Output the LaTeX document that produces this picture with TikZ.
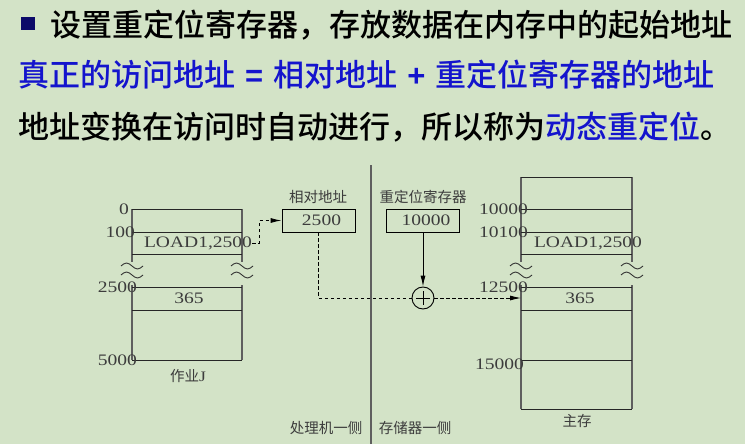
\documentclass[tikz,border=0pt]{standalone}
\usepackage{fontspec}
\setmainfont{Liberation Serif}
\newfontfamily\cjk{Noto Sans CJK SC}
\newfontfamily\cjkheavy{Noto Sans CJK SC}[UprightFont=* Medium]
\newfontfamily\symfont{Liberation Sans}[UprightFont=* Bold]
\newfontfamily\numfont{Liberation Serif}[FakeStretch=1.22]
\usetikzlibrary{arrows.meta}
\definecolor{bgGreen}{RGB}{211,227,199}
\definecolor{slideBlue}{RGB}{20,20,205}
\definecolor{bulletNavy}{RGB}{12,10,105}
\definecolor{lineGray}{RGB}{95,95,95}
\definecolor{textGray}{RGB}{60,60,60}

\begin{document}
\begin{tikzpicture}
	[x=1pt, y=-1pt,
		title/.style		={anchor=west
									, inner sep=0pt
									, font=\cjkheavy\fontsize{31}{31}\selectfont
									},
		num/.style			={inner sep=0pt
									, text=textGray
									, font=\numfont\fontsize{16}{16}\selectfont
									},
		addr/.style			={num
									, anchor=east
									},
		cjklabel/.style		={inner sep=0pt
									, text=textGray
									, font=\cjk\fontsize{14.5}{14.5}\selectfont
									},
		regbox/.style		={rectangle
									, draw
									, line width=0.9pt
									, minimum width=73pt
									, minimum height=23pt
									, num
									},
		side/.style			={draw=lineGray
									, line width=1.6pt
									},
		hline/.style		={draw=black!85
									, line width=0.9pt
									},
		wave/.style			={draw=black!80
									, line width=0.9pt
									},
		line/.style			={draw
									, line width=0.9pt
									, -{Latex[length=11pt,width=5pt]}
									},
		dline/.style		={line
									, dash pattern=on 3.5pt off 2.5pt
									}
	]
	\fill[bgGreen] (0,0) rectangle (745,444);
	\useasboundingbox (0,0) rectangle (745,444);

	% title lines
	\node [fill=bulletNavy, minimum width=14pt, minimum height=13pt, inner sep=0pt] (bullet) at (28,23.5) {};
	\node [title] (line1) at (50,25) {设置重定位寄存器，存放数据在内存中的起始地址};
	\node [title, text=slideBlue] (formula) at (18,75)
		{真正的访问地址\hspace{10pt}{\symfont =}\hspace{10pt}相对地址\hspace{10pt}{\symfont +}\hspace{10pt}重定位寄存器的地址};
	\node [title] (line3) at (18,127) {地址变换在访问时自动进行，所以称为{\color{slideBlue}动态重定位}。};

	% job J
	\path[side] (132,209) -- (132,262) (132,285) -- (132,360)
				(242,209) -- (242,262) (242,285) -- (242,360);
	\foreach \y in {209,232,254,287,310,360}
		\path[hline] (132,\y) -- (242,\y);
	\node [addr] (j0)    at (129,209) {0};
	\node [addr] (j100)  at (135,232) {100};
	\node [addr] (j2500) at (137,287) {2500};
	\node [addr] (j5000) at (137,360) {5000};
	\node [num] (jload) at (198,243) {LOAD1,2500};
	\node [num] (jdata) at (189,298) {365};
	\node [cjklabel] (job) at (188,376) {作业{\numfont J}};

	% main memory
	\path[side] (521,177) -- (521,262) (521,285) -- (521,409)
				(632,177) -- (632,262) (632,285) -- (632,409);
	\foreach \y in {177,209,232,254,287,310,360,409}
		\path[hline] (521,\y) -- (632,\y);
	\node [addr] (m10000) at (528,209) {10000};
	\node [addr] (m10100) at (528,232) {10100};
	\node [addr] (m12500) at (528,287) {12500};
	\node [addr] (m15000) at (524,364) {15000};
	\node [num] (mload) at (588,243) {LOAD1,2500};
	\node [num] (mdata) at (580,298) {365};
	\node [cjklabel] (memory) at (577,421) {主存};
	\coordinate (mentry) at (521,298);

	% breaks
	\foreach \x in {132,242,521,632}
		\foreach \y in {266,275}
			\path[wave] (\x-11,\y) sin ++(5.5,-3) cos ++(5.5,3) sin ++(5.5,3) cos ++(5.5,-3);

	% registers
	\node [regbox] (rel)   at (318.5,220.5) {\hspace{6pt}2500};
	\node [regbox] (reloc) at (423,220.5)   {\hspace{6pt}10000};
	\node [cjklabel] (rellabel)   at (318,197) {相对地址};
	\node [cjklabel] (reloclabel) at (423,197) {重定位寄存器};
	\node [circle, draw, line width=0.9pt, minimum size=22pt, inner sep=0pt] (plus) at (423,298) {};
	\draw[line width=0.8pt] (plus.center) ++(-7,0) -- ++(14,0)
							(plus.center) ++(0,-7) -- ++(0,14);

	% divider
	\draw[lineGray, line width=1.6pt] (371,165) -- (371,444);
	\node [cjklabel] (cpuside) at (326,428) {处理机一侧};
	\node [cjklabel] (memside) at (415,428) {存储器一侧};

	\path	[dline]	(jload.east)	-- ++(7,0) |- (rel.west);
	\path	[dline, -]	(rel.south)	|- (plus.west);
	\path	[line]	(reloc.south)	-- (plus.north);
	\path	[dline]	(plus.east)		-- (mentry);
\end{tikzpicture}
\end{document}
